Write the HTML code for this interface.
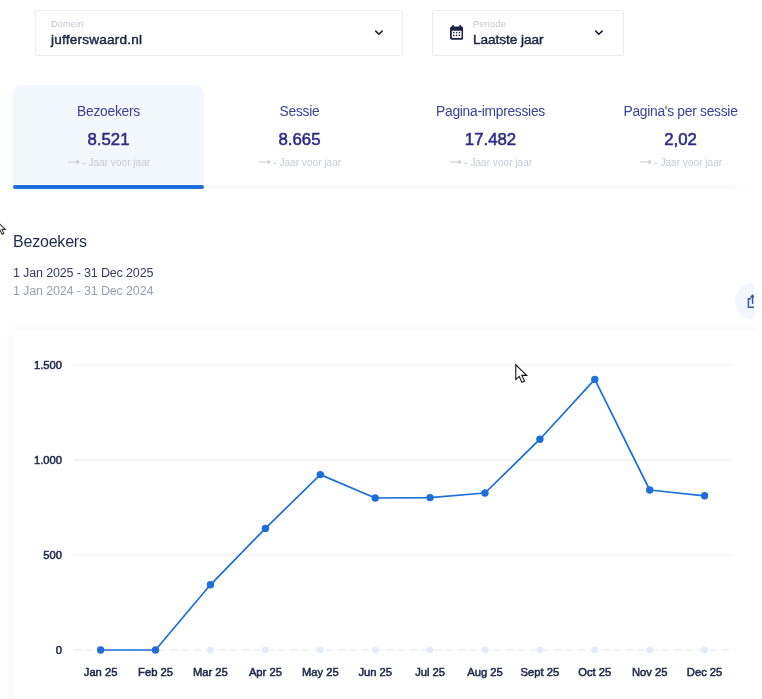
<!DOCTYPE html>
<html lang="nl">
<head>
<meta charset="utf-8">
<title>Bezoekers</title>
<style>
html,body{margin:0;padding:0;background:#fff;}
body{width:762px;height:699px;overflow:hidden;position:relative;font-family:"Liberation Sans",sans-serif;color:#1b2444;}
.abs{position:absolute;white-space:nowrap;}
.sel{position:absolute;top:10px;height:44px;border:1px solid #ececee;border-radius:2.5px;background:#fff;box-sizing:content-box;}
.lab{position:absolute;font-size:9px;color:#c2c6d3;line-height:10px;white-space:nowrap;letter-spacing:0.25px;}
.val{position:absolute;font-size:13.6px;font-weight:400;-webkit-text-stroke:0.45px #1b2444;letter-spacing:0.2px;color:#1b2444;line-height:16px;white-space:nowrap;}
.tab{position:absolute;top:85px;width:191px;height:100px;text-align:center;}
.tab .t{position:absolute;left:0;right:0;top:102px;top:17.8px;font-size:13.8px;line-height:18px;letter-spacing:-0.27px;color:#3c4196;white-space:nowrap;}
.tab .n{position:absolute;left:0;right:0;top:43.6px;font-size:16.8px;font-weight:400;-webkit-text-stroke:0.55px #2e2b8b;line-height:22px;color:#2e2b8b;white-space:nowrap;}
.tab .s{position:absolute;left:0;right:0;top:70.5px;font-size:10px;line-height:14px;color:#c6cad4;white-space:nowrap;letter-spacing:0.05px;padding-left:1.4px;}
.tab .s svg{vertical-align:middle;margin-right:2.5px;position:relative;top:-1px;}
</style>
</head>
<body>
<!-- selects -->
<div class="sel" style="left:35px;width:366px;">
  <div class="lab" style="left:15px;top:8.4px;">Domein</div>
  <div class="val" style="left:15px;top:20.7px;">jufferswaard.nl</div>
  <svg class="abs" style="left:337px;top:17px;" width="12" height="10" viewBox="0 0 12 10"><path d="M2.7 3.1 L5.9 6.3 L9.1 3.1" fill="none" stroke="#161b30" stroke-width="1.5" stroke-linecap="round" stroke-linejoin="round"/></svg>
</div>
<div class="sel" style="left:432px;width:190px;">
  <svg class="abs" style="left:17px;top:13.8px;" width="13.2" height="14.8" viewBox="0 0 13.2 14.8"><rect x="2.1" y="0" width="1.8" height="3" rx="0.6" fill="#1b2444"/><rect x="9.3" y="0" width="1.8" height="3" rx="0.6" fill="#1b2444"/><rect x="0" y="1.5" width="13.2" height="13.3" rx="1.7" fill="#1b2444"/><rect x="1.8" y="5.8" width="9.7" height="7.3" rx="0.3" fill="#fff"/><g fill="#1b2444"><rect x="3.1" y="6.9" width="1.4" height="1.4"/><rect x="5.9" y="6.9" width="1.4" height="1.4"/><rect x="8.7" y="6.9" width="1.4" height="1.4"/><rect x="3.1" y="9.7" width="1.4" height="1.4"/><rect x="5.9" y="9.7" width="1.4" height="1.4"/><rect x="8.7" y="9.7" width="1.4" height="1.4"/></g></svg>
  <div class="lab" style="left:40px;top:8.4px;">Periode</div>
  <div class="val" style="left:40px;top:20.7px;letter-spacing:-0.05px;">Laatste jaar</div>
  <svg class="abs" style="left:160px;top:17px;" width="12" height="10" viewBox="0 0 12 10"><path d="M2.7 3.1 L5.9 6.3 L9.1 3.1" fill="none" stroke="#161b30" stroke-width="1.5" stroke-linecap="round" stroke-linejoin="round"/></svg>
</div>

<!-- tabs -->
<div class="abs" style="left:207px;top:185px;width:545px;height:3.6px;background:linear-gradient(90deg,#fafafb 0,#fafafb 96%,#fff 100%);"></div>
<div class="abs" style="left:13px;top:85px;width:191px;height:99px;background:#f3f7fe;border-radius:9px 9px 0 0;"></div>
<div class="abs" style="left:13px;top:185px;width:190.6px;height:3.7px;background:#1b6fdc;border-radius:2px;"></div>
<div class="tab" style="left:13px;"><div class="t">Bezoekers</div><div class="n">8.521</div><div class="s"><svg width="11.5" height="6" viewBox="0 0 11.5 6"><path d="M0 3h10.4M8.6 1.2l2.3 1.8L8.600 4.800" fill="none" stroke="#c6cad4" stroke-width="1.1"/></svg>- Jaar voor jaar</div></div>
<div class="tab" style="left:204px;"><div class="t">Sessie</div><div class="n">8.665</div><div class="s"><svg width="11.5" height="6" viewBox="0 0 11.5 6"><path d="M0 3h10.4M8.6 1.2l2.3 1.8L8.600 4.800" fill="none" stroke="#c6cad4" stroke-width="1.1"/></svg>- Jaar voor jaar</div></div>
<div class="tab" style="left:395px;"><div class="t">Pagina-impressies</div><div class="n">17.482</div><div class="s"><svg width="11.5" height="6" viewBox="0 0 11.5 6"><path d="M0 3h10.4M8.6 1.2l2.3 1.8L8.600 4.800" fill="none" stroke="#c6cad4" stroke-width="1.1"/></svg>- Jaar voor jaar</div></div>
<div class="tab" style="left:585px;"><div class="t">Pagina's per sessie</div><div class="n">2,02</div><div class="s"><svg width="11.5" height="6" viewBox="0 0 11.5 6"><path d="M0 3h10.4M8.6 1.2l2.3 1.8L8.600 4.800" fill="none" stroke="#c6cad4" stroke-width="1.1"/></svg>- Jaar voor jaar</div></div>

<!-- heading -->
<div class="abs" style="left:13px;top:232.1px;font-size:16px;line-height:20px;color:#1f2a4c;letter-spacing:-0.2px;">Bezoekers</div>
<div class="abs" style="left:13px;top:265px;font-size:12.5px;line-height:16px;color:#353b58;letter-spacing:-0.15px;">1 Jan 2025 - 31 Dec 2025</div>
<div class="abs" style="left:13px;top:283px;font-size:12.5px;line-height:16px;color:#9a9fab;letter-spacing:-0.15px;">1 Jan 2024 - 31 Dec 2024</div>

<!-- export button -->
<div class="abs" style="left:735px;top:282.5px;width:19px;height:36px;overflow:hidden;">
  <div style="position:absolute;left:0;top:0;width:36px;height:36px;border-radius:18px;background:#f2f6fd;"></div>
  <svg class="abs" style="left:12px;top:11.5px;" width="10" height="16" viewBox="0 0 10 16"><path d="M4 4.8H1.4v8.4H8M5.6 10V1.6M3.6 3.4l2-2 2 2" fill="none" stroke="#2f5bb0" stroke-width="1.5"/></svg>
</div>

<!-- card -->
<div class="abs" style="left:13px;top:330px;width:800px;height:400px;background:#fff;border-radius:5px;box-shadow:0 0 12px rgba(0,0,0,0.055);"></div>
<div class="abs" style="left:753.5px;top:0;width:9px;height:699px;background:linear-gradient(90deg,rgba(255,255,255,0) 0,#fff 1.5px);"></div>

<svg class="abs" style="left:0;top:0;" width="762" height="699" viewBox="0 0 762 699" font-family="'Liberation Sans',sans-serif">
  <g stroke="#f3f3f4" stroke-width="1.3">
    <line x1="74" y1="365.2" x2="732" y2="365.2"/>
    <line x1="74" y1="460" x2="732" y2="460"/>
    <line x1="74" y1="554.8" x2="732" y2="554.8"/>
  </g>
  <line x1="74" y1="650.1" x2="732" y2="650.1" stroke="#eceff4" stroke-width="1.5" stroke-dasharray="7 5"/>
  <g fill="#e3ebf7">
    <circle cx="210.4" cy="650.1" r="3.3"/><circle cx="265.4" cy="650.1" r="3.3"/><circle cx="320.3" cy="650.1" r="3.3"/><circle cx="375.2" cy="650.1" r="3.3"/><circle cx="430.1" cy="650.1" r="3.3"/><circle cx="485" cy="650.1" r="3.3"/><circle cx="539.9" cy="650.1" r="3.3"/><circle cx="594.8" cy="650.1" r="3.3"/><circle cx="649.7" cy="650.1" r="3.3"/><circle cx="704.6" cy="650.1" r="3.3"/>
  </g>
  <polyline fill="none" stroke="#1c6fda" stroke-width="1.7" stroke-linejoin="round" points="100.6,650 155.5,650 210.4,584.8 265.4,528.4 320.3,474.6 375.2,498 430.1,497.6 485,493 539.9,439.2 594.8,379.4 649.7,490 704.6,495.8"/>
  <g fill="#1c6fda">
    <circle cx="100.6" cy="650" r="3.7"/><circle cx="155.5" cy="650" r="3.7"/><circle cx="210.4" cy="584.8" r="3.7"/><circle cx="265.4" cy="528.4" r="3.7"/><circle cx="320.3" cy="474.6" r="3.7"/><circle cx="375.2" cy="498" r="3.7"/><circle cx="430.1" cy="497.6" r="3.7"/><circle cx="485" cy="493" r="3.7"/><circle cx="539.9" cy="439.2" r="3.7"/><circle cx="594.8" cy="379.4" r="3.7"/><circle cx="649.7" cy="490" r="3.7"/><circle cx="704.6" cy="495.8" r="3.7"/>
  </g>
  <g font-size="11.2" stroke="#1f2a4c" stroke-width="0.55" fill="#1f2a4c" text-anchor="end">
    <text x="62" y="368.6">1.500</text>
    <text x="62" y="463.6">1.000</text>
    <text x="62" y="558.6">500</text>
    <text x="62" y="653.6">0</text>
  </g>
  <g font-size="11.2" stroke="#1f2a4c" stroke-width="0.55" fill="#1f2a4c" text-anchor="middle">
    <text x="100.6" y="675.9">Jan 25</text><text x="155.5" y="675.9">Feb 25</text><text x="210.4" y="675.9">Mar 25</text><text x="265.4" y="675.9">Apr 25</text><text x="320.3" y="675.9">May 25</text><text x="375.2" y="675.9">Jun 25</text><text x="430.1" y="675.9">Jul 25</text><text x="485" y="675.9">Aug 25</text><text x="539.9" y="675.9">Sept 25</text><text x="594.8" y="675.9">Oct 25</text><text x="649.7" y="675.9">Nov 25</text><text x="704.6" y="675.9">Dec 25</text>
  </g>
  <!-- cursors -->
  <g transform="translate(515.3,364)"><path d="M0.5 0.8 V15.6 L3.9 12.4 L6.6 18.4 L9.3 17.2 L6.6 11.4 H11.4 Z" fill="#fff" stroke="#111" stroke-width="1.1" stroke-linejoin="miter"/></g>
  <g transform="translate(-2.6,221.4) scale(0.7)"><path d="M0.5 0.8 V15.6 L3.9 12.4 L6.6 18.4 L9.3 17.2 L6.6 11.4 H11.4 Z" fill="#fff" stroke="#333" stroke-width="1.5" stroke-linejoin="miter"/></g>
</svg>
</body>
</html>
